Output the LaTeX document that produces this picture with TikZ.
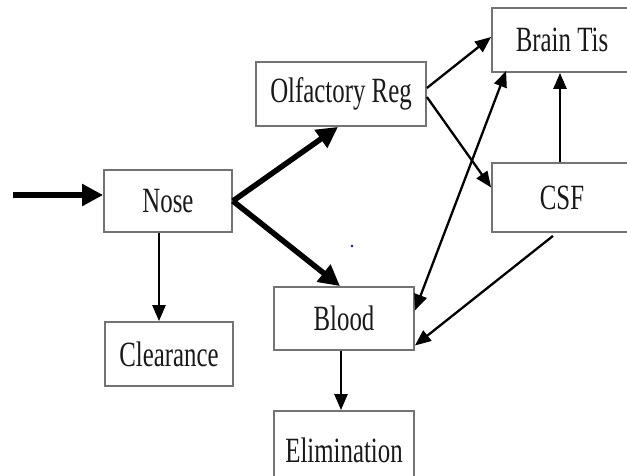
\documentclass[tikz,border=0pt]{standalone}
\usepackage{fontspec}
\setmainfont[FakeStretch=0.7]{Liberation Serif}
\usetikzlibrary{arrows.meta,calc}
\begin{document}
\begin{tikzpicture}[x=1pt,y=-1pt,
  box/.style={draw=black!55,line width=1.8pt,fill=white,inner sep=0pt,
    text=black!90,font=\fontsize{35.5}{40}\selectfont},
  thin/.style={line width=2.3pt,-{Triangle[length=16pt,width=13pt]}},
  thinboth/.style={line width=2.3pt,{Triangle[length=16pt,width=13pt]}-{Triangle[length=16pt,width=13pt]}},
  thick/.style={line width=5.5pt,-{Triangle[length=21pt,width=21pt]}}]
\useasboundingbox (0,0) rectangle (627,475);
\begin{scope}
\clip (0,0) rectangle (627,475);
\node[box,minimum width=128pt,minimum height=62pt] (nose) at (168,201) {Nose};
\node[box,minimum width=128pt,minimum height=64pt] (clear) at (169,354) {Clearance};
\node[box,minimum width=170pt,minimum height=64pt] (olf) at (341,94) {Olfactory Reg};
\node[box,minimum width=140pt,minimum height=63pt] (blood) at (344,318.5) {Blood};
\node[box,minimum width=140pt,minimum height=78pt] (elim) at (344,450) {Elimination};
\node[box,minimum width=140pt,minimum height=64pt] (brain) at (562,40) {Brain Tis};
\node[box,minimum width=140pt,minimum height=69pt] (csf) at (562,197.5) {CSF};
\end{scope}
\coordinate (src) at (13,195);
\draw[thick] (src) -- ([yshift=6pt]nose.west);
\draw[thick] (nose.east) -- ([xshift=-3pt]olf.south);
\draw[thick] (nose.east) -- ([xshift=-4pt]blood.north);
\draw[thin] ([xshift=-9pt]nose.south) -- ([xshift=-10pt]clear.north);
\draw[thin] ([yshift=6pt]olf.east) -- ([yshift=3pt]brain.west);
\draw[thin] ([yshift=-3pt]olf.east) -- ([yshift=10pt]csf.west);
\draw[thinboth] ([yshift=8pt]blood.east) -- ($(brain.south west)+(15,-2)$);
\draw[thin] ([xshift=-2pt]csf.north) -- ([xshift=-2pt]brain.south);
\draw[thin] ($(csf.south)+(-9,3)$) -- ([yshift=-27pt]blood.east);
\draw[thin] ([xshift=-3pt]blood.south) -- ([xshift=-3pt]elim.north);
\fill[blue] (352,246) circle (1.4pt);
\end{tikzpicture}
\end{document}
